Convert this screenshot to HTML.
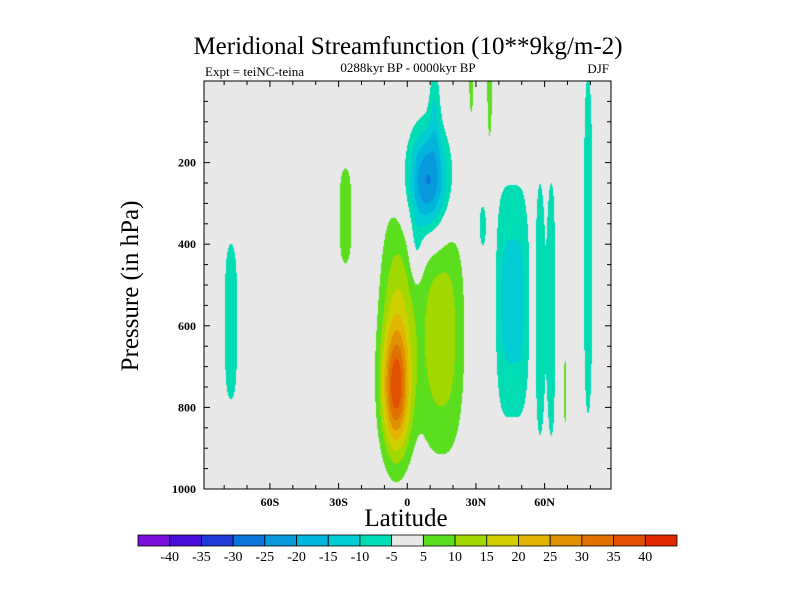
<!DOCTYPE html>
<html><head><meta charset="utf-8"><style>
body{margin:0;background:#fff;width:800px;height:600px;overflow:hidden;position:relative;font-family:"Liberation Serif",serif}
canvas,svg{position:absolute;left:0;top:0}
</style></head><body>
<canvas id="cv" width="800" height="600"></canvas>
<svg id="sv" width="800" height="600"></svg>
<script>
// ---- data ----
const blobLat  = [-77, -27, -5, -4, 15, 9, 4, 12, 28, 36, 46, 33, 58, 63, 69, 79];
const blobP    = [590, 330, 760, 580, 620, 250, 420, 60, 0, 0, 540, 355, 560, 560, 760, 400];
const blobAmp  = [-8, 8, 30, 14, 13, -27, -7, -8, 8, 8, -12, -8, -8, -8, 7, -8];
const blobSLat = [3.8, 3.6, 6, 8, 10, 9, 3, 2.5, 1.3, 1.5, 7.5, 2, 2.5, 2.2, 0.8, 2.5];
const blobSP   = [230, 140, 150, 280, 300, 130, 80, 120, 110, 200, 300, 70, 370, 370, 100, 500];
const blobPowLat = [2, 2, 2, 2, 2.5, 2, 2, 2, 2, 2, 4, 2, 2, 2, 2, 2];
const blobPowP = [4, 4, 2, 2, 2.5, 2, 2, 2, 2, 2, 2.5, 2, 4, 4, 4, 4];
const levels = [-40,-35,-30,-25,-20,-15,-10,-5,5,10,15,20,25,30,35,40];
const levelLabels = ["-40","-35","-30","-25","-20","-15","-10","-5","5","10","15","20","25","30","35","40"];
const colors = ["#7a0fdc","#4a0cd8","#1f3ad8","#0b74dc","#0898dc","#00b4dc","#00ccd4","#00dcb4","#e8e8e8","#5ade1e","#a0d800","#d0d000","#e0b400","#e09000","#e07000","#e05000","#e02800"];
const pTicks = [200,400,600,800,1000];
const latTicks = [-60,-30,0,30,60];
const latTickLabels = ["60S","30S","0","30N","60N"];
// ---- axes ----
const X0=204,X1=611,Y0=81,Y1=489;
const latMin=-88.8,latMax=89;
const xs=l=>X0+(l-latMin)/(latMax-latMin)*(X1-X0);
const ys=p=>Y0+p/1000*(Y1-Y0);
const field=(lat,p)=>{let v=0;for(let i=0;i<blobLat.length;i++){const t=Math.pow(Math.abs(lat-blobLat[i])/blobSLat[i],blobPowLat[i])+Math.pow(Math.abs(p-blobP[i])/blobSP[i],blobPowP[i]);if(t<20)v+=blobAmp[i]*Math.exp(-t);}return v;};
const colorOf=v=>{let k=0;while(k<levels.length&&v>=levels[k])k++;return colors[k];};
const ctx=document.getElementById('cv').getContext('2d');
ctx.fillStyle='#e8e8e8';ctx.fillRect(X0,Y0,X1-X0,Y1-Y0);
for(let px=X0;px<X1;px++){for(let py=Y0;py<Y1;py++){
  const lat=latMin+(px+0.5-X0)/(X1-X0)*(latMax-latMin);const p=(py+0.5-Y0)/(Y1-Y0)*1000;
  const c=colorOf(field(lat,p));if(c!=='#e8e8e8'){ctx.fillStyle=c;ctx.fillRect(px,py,1,1);}
}}
const sv=document.getElementById('sv');const NS='http://www.w3.org/2000/svg';
function mk(tag,at,txt){const e=document.createElementNS(NS,tag);for(const k in at)e.setAttribute(k,at[k]);if(txt!=null)e.textContent=txt;sv.appendChild(e);return e;}
let e=mk('rect',{x:X0,y:Y0,width:X1-X0,height:Y1-Y0,fill:'none',stroke:'#000','stroke-width':1});


for(let l=-80;l<=80;l+=10){const x=xs(l);const L=(l%30===0)?6:4;
  mk('line',{x1:x,x2:x,y1:Y1,y2:Y1-L,stroke:'#000'});mk('line',{x1:x,x2:x,y1:Y0,y2:Y0+L,stroke:'#000'});}
for(let p=50;p<1000;p+=50){const y=ys(p);const L=(p%200===0)?6:4;
  mk('line',{x1:X0,x2:X0+L,y1:y,y2:y,stroke:'#000'});mk('line',{x1:X1,x2:X1-L,y1:y,y2:y,stroke:'#000'});}
pTicks.forEach(p=>{e=mk('text',{x:X0-8,y:ys(p)+4,'text-anchor':'end','font-size':12,'font-weight':'bold'},String(p));

});
latTicks.forEach((l,i)=>{e=mk('text',{x:xs(l),y:506,'text-anchor':'middle','font-size':12,'font-weight':'bold'},latTickLabels[i]);

});
e=mk('text',{x:408,y:54,'text-anchor':'middle','font-size':25},'Meridional Streamfunction (10**9kg/m-2)');


e=mk('text',{x:205,y:76,'font-size':13},'Expt = teiNC-teina');


e=mk('text',{x:408,y:72,'text-anchor':'middle','font-size':13},'0288kyr BP - 0000kyr BP');


e=mk('text',{x:609,y:73,'text-anchor':'end','font-size':13},'DJF');


e=mk('text',{x:406,y:526,'text-anchor':'middle','font-size':25},'Latitude');


e=mk('text',{x:0,y:0,'text-anchor':'middle','font-size':25,transform:'translate(138,286) rotate(-90)'},'Pressure (in hPa)');


// colorbar
const CB0=138,CB1=677,CBy=535,CBh=11;const bw=(CB1-CB0)/colors.length;
colors.forEach((c,i)=>{e=mk('rect',{x:CB0+i*bw,y:CBy,width:bw,height:CBh,fill:c,stroke:'#000','stroke-width':0.8});

});
levelLabels.forEach((t,i)=>{e=mk('text',{x:CB0+(i+1)*bw,y:561,'text-anchor':'middle','font-size':14},t);

});
</script>
</body></html>
